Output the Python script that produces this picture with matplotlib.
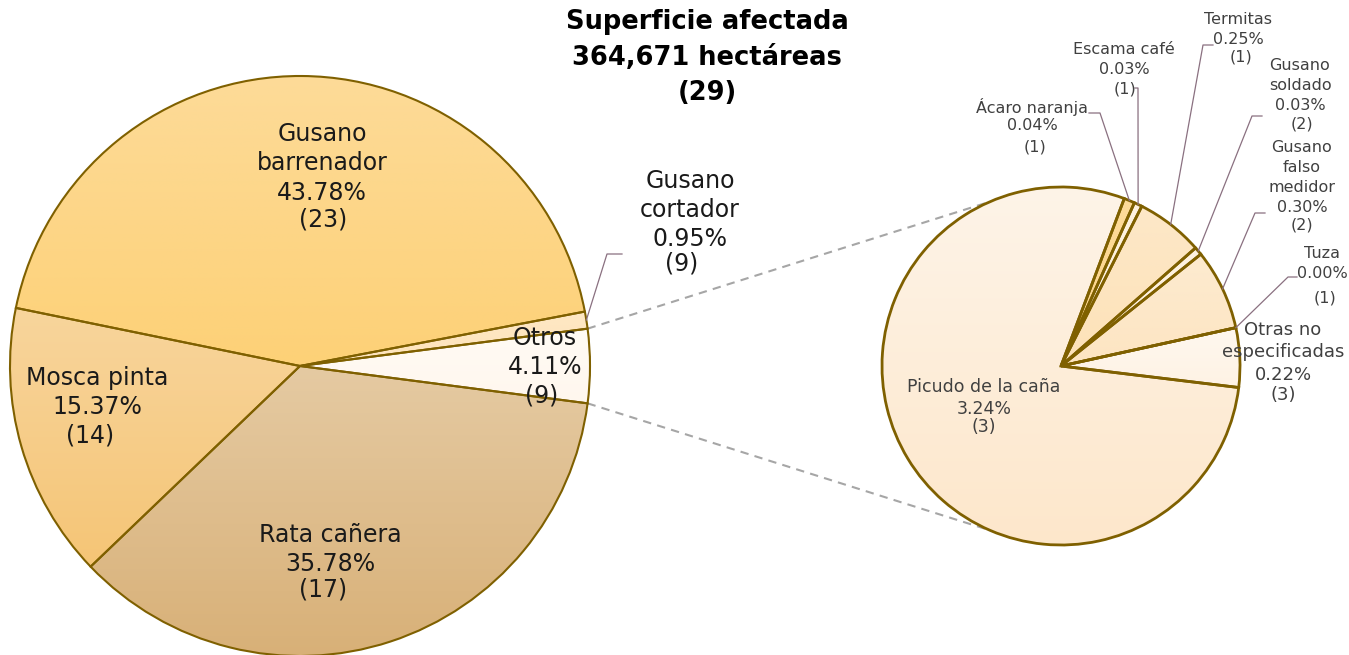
import matplotlib.pyplot as plt
import numpy as np
from matplotlib.colors import to_rgb

W, H = 1349, 655

# main pie, clockwise order
main_names = ["Gusano\nbarrenador", "Gusano\ncortador", "Otros", "Rata cañera", "Mosca pinta"]
main_pct = [43.78, 0.95, 4.11, 35.78, 15.37]
main_count = [23, 9, 9, 17, 14]

# breakdown of "Otros", clockwise order
sub_names = ["Ácaro naranja", "Escama café", "Termitas", "Gusano\nsoldado",
             "Gusano\nfalso\nmedidor", "Tuza", "Otras no\nespecificadas", "Picudo de la caña"]
sub_pct = [0.04, 0.03, 0.25, 0.03, 0.30, 0.00, 0.22, 3.24]
sub_count = [1, 1, 1, 2, 2, 1, 3, 3]

title_lines = ["Superficie afectada", "364,671 hectáreas", "(29)"]

main_top = ["#FDDB98", "#FEE8C4", "#FFFBF5", "#E5CAA2", "#F8D59C"]
main_bot = ["#FDD177", "#FEE4BC", "#FFF7EE", "#D8B077", "#F5C576"]
sub_top = ["#FDDB9A", "#FEF3E0", "#FDE8C8", "#FEF3E2", "#FDEBD0", "#FEF3E2", "#FFF8EF", "#FEF4E8"]
sub_bot = ["#FDD58A", "#FEEFD6", "#FDE2B8", "#FEEFD8", "#FDE5C2", "#FEEFD8", "#FEF2E4", "#FDE7CB"]

EDGE = "#7F6000"
LEAD = "#8A7080"
plt.rcParams['font.family'] = ['DejaVu Sans']


def py(y):
    return H - y


def gradient_pie(ax, vals, tops, bots, center, radius, start, lw):
    wedges, _ = ax.pie(vals, colors=bots, startangle=start, counterclock=False,
                       center=center, radius=radius, frame=True,
                       wedgeprops=dict(linewidth=0))
    for w, c0, c1 in zip(wedges, tops, bots):
        v = w.get_path().vertices
        if len(v) == 0:
            continue
        x0, x1 = v[:, 0].min(), v[:, 0].max()
        y0, y1 = v[:, 1].min(), v[:, 1].max()
        t = np.linspace(0, 1, 64)[:, None]
        img = (1 - t) * np.array(to_rgb(c0)) + t * np.array(to_rgb(c1))
        img = img[:, None, :].repeat(2, axis=1)
        im = ax.imshow(img, extent=(x0, x1, y0, y1), origin='upper',
                       aspect='auto', interpolation='bilinear', zorder=1)
        im.set_clip_path(w)
    edges, _ = ax.pie(vals, colors=['none'] * len(vals), startangle=start,
                      counterclock=False, center=center, radius=radius, frame=True,
                      wedgeprops=dict(linewidth=lw, edgecolor=EDGE))
    for e in edges:
        e.set_zorder(3)
    return wedges


def put_label(ax, x, ys, lines, size, color, xs=None):
    for i, (y, s) in enumerate(zip(ys, lines)):
        xx = x if xs is None or xs[i] is None else xs[i]
        ax.text(xx, py(y), s, ha='center', va='center', fontsize=size, color=color, zorder=5)


fig = plt.figure(figsize=(W / 100, H / 100), dpi=100)
ax = fig.add_axes([0, 0, 1, 1])

c_main = (300, py(366))
r_main = 290
c_sub = (1061, py(366))
r_sub = 179

tot = sum(main_pct)
start_main = 360 * (main_pct[2] / 2 + main_pct[1] + main_pct[0]) / tot
gradient_pie(ax, main_pct, main_top, main_bot, c_main, r_main, start_main, 1.5)
gradient_pie(ax, sub_pct, sub_top, sub_bot, c_sub, r_sub, 69.3, 2.0)

ax.set_xlim(0, W)
ax.set_ylim(0, H)
ax.axis('off')

# dashed connectors between the "Otros" slice and the breakdown pie
half = 180 * main_pct[2] / tot
for sgn in (1, -1):
    a1 = np.deg2rad(sgn * half)
    a2 = np.deg2rad(sgn * 113.4)
    ax.plot([c_main[0] + r_main * np.cos(a1), c_sub[0] + r_sub * np.cos(a2)],
            [c_main[1] + r_main * np.sin(a1), c_sub[1] + r_sub * np.sin(a2)],
            ls=(0, (4, 3)), color="#A6A6A6", lw=1.5, zorder=2)


def mid_angle(vals, i, start):
    t = sum(vals)
    a = start - 360 * (sum(vals[:i]) + vals[i] / 2) / t
    return np.deg2rad(a)


def leader(ax, center, radius, ang, elbow, end):
    x0 = center[0] + radius * np.cos(ang)
    y0 = center[1] + radius * np.sin(ang)
    ax.plot([x0, elbow[0], end[0]], [y0, py(elbow[1]), py(end[1])],
            color=LEAD, lw=0.9, zorder=4)


# main labels
main_lab_pos = [
    (322, [134, 163, 193, 220], [None, None, None, 323]),
    (690, [181, 210, 239, 263], [None, None, None, 682]),
    (545, [338, 367, 395], [None, None, 542]),
    (330, [535, 564, 590], [None, None, 323]),
    (97, [378, 407, 435], [None, None, 90]),
]
for name, p, n, (x, ys, xs) in zip(main_names, main_pct, main_count, main_lab_pos):
    lines = name.split("\n") + ["%.2f%%" % p, "(%d)" % n]
    put_label(ax, x, ys, lines, 17, "#1a1a1a", xs)

leader(ax, c_main, r_main, mid_angle(main_pct, 1, start_main), (607, 254), (622, 254))

# breakdown labels
sub_lab_pos = [
    (1032, [107, 126, 147], [None, None, 1035], 11.5, (1100, 113), (1089, 113)),
    (1124, [49, 69, 89], [None, None, 1125], 11.5, (1138, 88), (1135, 88)),
    (1238, [19, 39, 57], [None, None, 1241], 11.5, (1203, 45), (1213, 45)),
    (1300, [66, 85, 105, 124], [None, None, None, 1302], 11.5, (1252, 116), (1262, 116)),
    (1302, [148, 167, 187, 207, 225], None, 11.5, (1255, 213), (1265, 213)),
    (1322, [254, 273, 298], [None, None, 1325], 11.5, (1288, 277), (1297, 277)),
    (1283, [330, 352, 375, 395], None, 13, None, None),
    (984, [387, 409, 427], None, 12.5, None, None),
]
for i, (name, p, n, pos) in enumerate(zip(sub_names, sub_pct, sub_count, sub_lab_pos)):
    x, ys, xs, fs, elbow, end = pos
    lines = name.split("\n") + ["%.2f%%" % p, "(%d)" % n]
    put_label(ax, x, ys, lines, fs, "#404040", xs)
    if elbow is not None:
        leader(ax, c_sub, r_sub, mid_angle(sub_pct, i, 69.3), elbow, end)

for y, s in zip([22, 58, 93], title_lines):
    ax.text(707, py(y), s, ha='center', va='center', fontsize=18.5,
            fontweight='bold', color='black')

fig.savefig("out.png", dpi=100)
